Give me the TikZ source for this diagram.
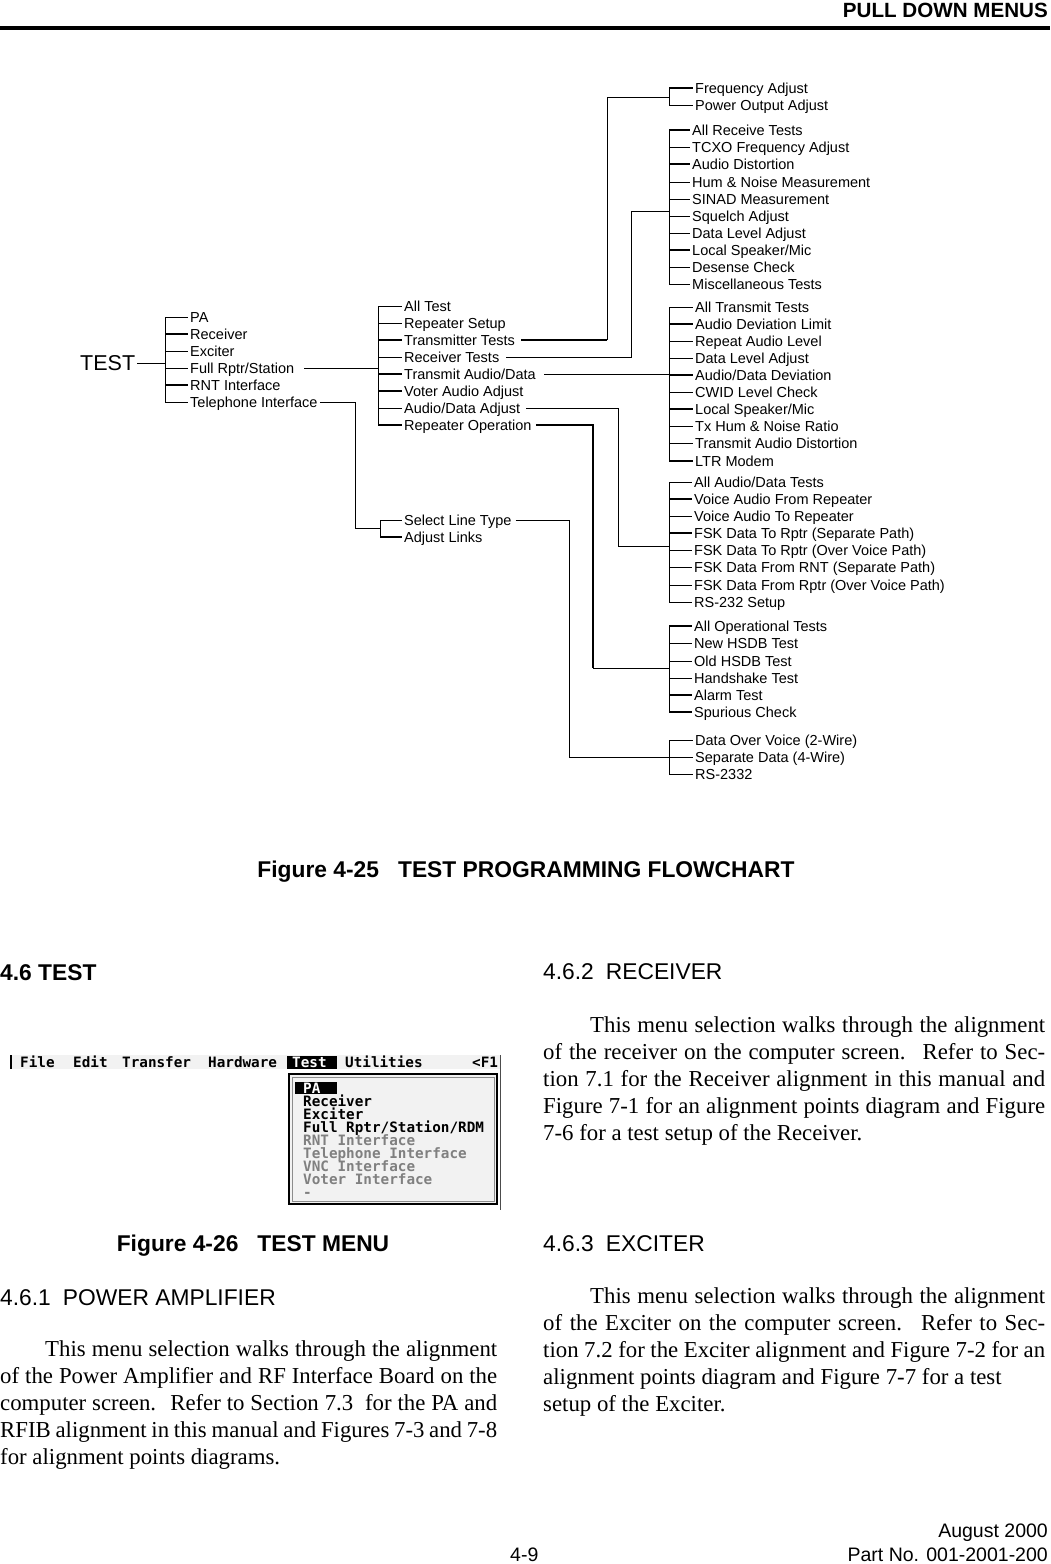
\documentclass[tikz,border=0pt]{standalone}
\usepackage{fontspec}
\setmainfont{Liberation Serif}
\setsansfont{Liberation Sans}
\setmonofont{DejaVu Sans Mono}
\usetikzlibrary{calc}
\def\branch[#1](#2)(#3){\draw[#1] (#2.west -| #3) -- (#2.west);}

\begin{document}
\begin{tikzpicture}[x=1pt, y=-1pt,
		item/.style={anchor=west, inner xsep=2pt, inner ysep=0pt, text height=10.4pt, text depth=0pt,
			font=\sffamily\fontsize{14.5}{16}\selectfont},
		thn/.style={line width=0.9pt},
		thk/.style={line width=2.4pt},
		head/.style={anchor=base west, inner sep=0pt, font=\sffamily\fontsize{22.8}{27}\selectfont},
		para/.style={anchor=base west, inner sep=0pt, text width=502pt, align=justify,
			font=\rmfamily\fontsize{22.8}{27}\selectfont},
		scr/.style={anchor=base west, inner sep=0pt, font=\ttfamily\bfseries\fontsize{14.3}{13}\selectfont},
		dim/.style={scr, text=black!50}]
		%%%%% START %%%%%
		\useasboundingbox (0,0) rectangle (1050,1564);
		
		% page header
		\node[head, anchor=base east, font=\sffamily\bfseries\fontsize{20.6}{24}\selectfont] (hdr) at (1048,17) {PULL DOWN MENUS};
		\fill (0,26) rectangle (1050,30);
		
		% bracket columns
		\coordinate (lvA) at (165,0);
		\coordinate (lvB) at (378,0);
		\coordinate (lvC) at (380,0);
		\coordinate (lvR) at (669,0);
		
		\node[item, font=\sffamily\fontsize{21.5}{24}\selectfont, text height=15.4pt] (test) at (78,363) {TEST};
		
		\node[item] (pa) at (188,317) {PA};
		\node[item] (rcv) at (188,334) {Receiver};
		\node[item] (exc) at (188,351) {Exciter};
		\node[item] (full) at (188,368) {Full Rptr/Station};
		\node[item] (rnt) at (188,385) {RNT Interface};
		\node[item] (tel) at (188,402) {Telephone Interface};
		
		\node[item] (allt) at (402,306) {All Test};
		\node[item] (rset) at (402,323) {Repeater Setup};
		\node[item] (txt) at (402,340) {Transmitter Tests};
		\node[item] (rxt) at (402,357) {Receiver Tests};
		\node[item] (txad) at (402,374) {Transmit Audio/Data};
		\node[item] (vot) at (402,391) {Voter Audio Adjust};
		\node[item] (adadj) at (402,408) {Audio/Data Adjust};
		\node[item] (rop) at (402,425) {Repeater Operation};
		
		\node[item] (slt) at (402,520) {Select Line Type};
		\node[item] (adjl) at (402,537) {Adjust Links};
		
		\node[item] (freq) at (693,88) {Frequency Adjust};
		\node[item] (pwr) at (693,105) {Power Output Adjust};
		
		\node[item] (r1) at (690,130) {All Receive Tests};
		\node[item] (r2) at (690,147) {TCXO Frequency Adjust};
		\node[item] (r3) at (690,164) {Audio Distortion};
		\node[item] (r4) at (690,182) {Hum \& Noise Measurement};
		\node[item] (r5) at (690,199) {SINAD Measurement};
		\node[item] (r6) at (690,216) {Squelch Adjust};
		\node[item] (r7) at (690,233) {Data Level Adjust};
		\node[item] (r8) at (690,250) {Local Speaker/Mic};
		\node[item] (r9) at (690,267) {Desense Check};
		\node[item] (r10) at (690,284) {Miscellaneous Tests};
		
		\node[item] (t1) at (693,307) {All Transmit Tests};
		\node[item] (t2) at (693,324) {Audio Deviation Limit};
		\node[item] (t3) at (693,341) {Repeat Audio Level};
		\node[item] (t4) at (693,358) {Data Level Adjust};
		\node[item] (t5) at (693,375) {Audio/Data Deviation};
		\node[item] (t6) at (693,392) {CWID Level Check};
		\node[item] (t7) at (693,409) {Local Speaker/Mic};
		\node[item] (t8) at (693,426) {Tx Hum \& Noise Ratio};
		\node[item] (t9) at (693,443) {Transmit Audio Distortion};
		\node[item] (t10) at (693,461) {LTR Modem};
		
		\node[item] (a1) at (692,482) {All Audio/Data Tests};
		\node[item] (a2) at (692,499) {Voice Audio From Repeater};
		\node[item] (a3) at (692,516) {Voice Audio To Repeater};
		\node[item] (a4) at (692,533) {FSK Data To Rptr (Separate Path)};
		\node[item] (a5) at (692,550) {FSK Data To Rptr (Over Voice Path)};
		\node[item] (a6) at (692,567) {FSK Data From RNT (Separate Path)};
		\node[item] (a7) at (692,585) {FSK Data From Rptr (Over Voice Path)};
		\node[item] (a8) at (692,602) {RS-232 Setup};
		
		\node[item] (o1) at (692,626) {All Operational Tests};
		\node[item] (o2) at (692,643) {New HSDB Test};
		\node[item] (o3) at (692,661) {Old HSDB Test};
		\node[item] (o4) at (692,678) {Handshake Test};
		\node[item] (o5) at (692,695) {Alarm Test};
		\node[item] (o6) at (692,712) {Spurious Check};
		
		\node[item] (l1) at (693,740) {Data Over Voice (2-Wire)};
		\node[item] (l2) at (693,757) {Separate Data (4-Wire)};
		\node[item] (l3) at (693,774) {RS-2332};
		
		% brackets
		\draw[thn] (pa.west -| lvA) -- (tel.west -| lvA);
		\draw[thn] (allt.west -| lvB) -- (rop.west -| lvB);
		\draw[thn] (slt.west -| lvC) -- (adjl.west -| lvC);
		\draw[thn] (freq.west -| lvR) -- (pwr.west -| lvR);
		\draw[thn] (r1.west -| lvR) -- (r10.west -| lvR);
		\draw[thn] (t1.west -| lvR) -- (t10.west -| lvR);
		\draw[thn] (a1.west -| lvR) -- (a8.west -| lvR);
		\draw[thn] (o1.west -| lvR) -- (o6.west -| lvR);
		\draw[thn] (l1.west -| lvR) -- (l3.west -| lvR);
		
		% ticks
		\branch[thn](pa)(lvA) \branch[thk](rcv)(lvA) \branch[thn](exc)(lvA)
		\branch[thn](full)(lvA) \branch[thk](rnt)(lvA) \branch[thn](tel)(lvA)
		
		\branch[thn](allt)(lvB) \branch[thn](rset)(lvB) \branch[thk](txt)(lvB) \branch[thn](rxt)(lvB)
		\branch[thk](txad)(lvB) \branch[thk](vot)(lvB) \branch[thn](adadj)(lvB) \branch[thk](rop)(lvB)
		\branch[thn](slt)(lvC) \branch[thk](adjl)(lvC)
		
		\branch[thk](freq)(lvR) \branch[thn](pwr)(lvR)
		\branch[thk](r1)(lvR) \branch[thn](r2)(lvR) \branch[thk](r3)(lvR) \branch[thn](r4)(lvR) \branch[thn](r5)(lvR)
		\branch[thn](r6)(lvR) \branch[thn](r7)(lvR) \branch[thk](r8)(lvR) \branch[thn](r9)(lvR) \branch[thn](r10)(lvR)
		\branch[thn](t1)(lvR) \branch[thk](t2)(lvR) \branch[thn](t3)(lvR) \branch[thn](t4)(lvR) \branch[thk](t5)(lvR)
		\branch[thn](t6)(lvR) \branch[thk](t7)(lvR) \branch[thn](t8)(lvR) \branch[thn](t9)(lvR) \branch[thk](t10)(lvR)
		\branch[thn](a1)(lvR) \branch[thk](a2)(lvR) \branch[thn](a3)(lvR) \branch[thk](a4)(lvR)
		\branch[thn](a5)(lvR) \branch[thn](a6)(lvR) \branch[thn](a7)(lvR) \branch[thn](a8)(lvR)
		\branch[thk](o1)(lvR) \branch[thn](o2)(lvR) \branch[thn](o3)(lvR) \branch[thn](o4)(lvR) \branch[thk](o5)(lvR) \branch[thk](o6)(lvR)
		\branch[thn](l1)(lvR) \branch[thn](l2)(lvR) \branch[thn](l3)(lvR)
		
		% connectors between levels
		\coordinate (telDrop) at (355,528);
		\coordinate (txRise) at (607,97);
		\coordinate (rxRise) at (631,211);
		\coordinate (adDrop) at (618,546);
		\coordinate (opDrop) at (593,668);
		\coordinate (lnDrop) at (569,757);
		
		\draw[thn] (test.east) -- (test.east -| lvA);
		\draw[thn] ([xshift=8pt]full.east) -- (full.east -| lvB);
		\draw[thn] (tel.east) -| (telDrop) -- (telDrop -| lvC);
		\draw[thk] ([xshift=4pt]txt.east) -- (txt.east -| txRise);
		\draw[thn] (txt.east -| txRise) -- (txRise) -- (txRise -| lvR);
		\draw[thn] ([xshift=5pt]rxt.east) -| (rxRise) -- (rxRise -| lvR);
		\draw[thn] ([xshift=6pt]txad.east) -- (txad.east -| lvR);
		\draw[thn] ([xshift=4pt]adadj.east) -| (adDrop) -- (adDrop -| lvR);
		\draw[thk] ([xshift=2pt]rop.east) -| (opDrop);
		\draw[thn] (opDrop) -- (opDrop -| lvR);
		\draw[thn] ([xshift=2pt]slt.east) -| (lnDrop) -- (lnDrop -| lvR);
		
		\node[head, anchor=base, font=\sffamily\bfseries\fontsize{22.8}{27}\selectfont] (cap25) at (526,877) {Figure 4-25\hspace{19pt}TEST PROGRAMMING FLOWCHART};
		
		% left column
		\node[head, font=\sffamily\bfseries\fontsize{22.8}{27}\selectfont] (sec46) at (0,980) {4.6 TEST};
		
		\fill[black!5] (10,1055) rectangle (500,1069);
		\fill (10,1055) rectangle (12,1069);
		\fill (287,1056) rectangle (337,1069);
		\node[scr] (mFile) at (20,1067) {File};
		\node[scr] (mEdit) at (73,1067) {Edit};
		\node[scr] (mTrans) at (122,1067) {Transfer};
		\node[scr] (mHard) at (208,1067) {Hardware};
		\node[scr, text=white] (mTest) at (292,1067) {Test};
		\node[scr] (mUtil) at (345,1067) {Utilities};
		\node[scr] (mHelp) at (472,1067) {<F1};
		\draw[black!70, line width=1pt] (500,1055) -- (500,1210);
		\filldraw[fill=black!5, line width=2pt] (289,1074) rectangle (497,1204);
		\draw[black!45, line width=0.8pt] (292,1077) rectangle (494,1201);
		\fill (295,1082) rectangle (337,1094);
		\node[scr, text=white] (dPA) at (303,1093) {PA};
		\node[scr] (dRcv) at (303,1106) {Receiver};
		\node[scr] (dExc) at (303,1119) {Exciter};
		\node[scr] (dFull) at (303,1132) {Full Rptr/Station/RDM};
		\node[dim] (dRnt) at (303,1145) {RNT Interface};
		\node[dim] (dTel) at (303,1158) {Telephone Interface};
		\node[dim] (dVnc) at (303,1171) {VNC Interface};
		\node[dim] (dVot) at (303,1184) {Voter Interface};
		\node[dim] (dDash) at (303,1197) {-};
		
		\node[head, anchor=base, font=\sffamily\bfseries\fontsize{22.8}{27}\selectfont] (cap26) at (253,1251) {Figure 4-26\hspace{19pt}TEST MENU};
		\node[head] (sec461) at (0,1305) {4.6.1\hspace{12pt}POWER AMPLIFIER};
		\node[para, text width=497pt] (txtPA) at (0,1356) {\hspace*{45pt}This menu selection walks through the alignment\linebreak
			of the Power Amplifier and RF Interface Board on the\linebreak
			computer screen.\hspace{6pt} Refer to Section 7.3\hspace{6pt} for the PA and\linebreak
			RFIB alignment in this manual and Figures 7-3 and 7-8\linebreak
			for alignment points diagrams.};
		
		% right column
		\node[head] (sec462) at (543,979) {4.6.2\hspace{12pt}RECEIVER};
		\node[para] (txtRcv) at (543,1032) {\hspace*{47pt}This menu selection walks through the alignment\linebreak
			of the receiver on the computer screen.\hspace{6pt} Refer to Sec-\linebreak
			tion 7.1 for the Receiver alignment in this manual and\linebreak
			Figure 7-1 for an alignment points diagram and Figure\linebreak
			7-6 for a test setup of the Receiver.};
		\node[head] (sec463) at (543,1251) {4.6.3\hspace{12pt}EXCITER};
		\node[para] (txtExc) at (543,1303) {\hspace*{47pt}This menu selection walks through the alignment\linebreak
			of the Exciter on the computer screen.\hspace{6pt} Refer to Sec-\linebreak
			tion 7.2 for the Exciter alignment and Figure 7-2 for an\linebreak
			alignment points diagram and Figure 7-7 for a test\newline
			setup of the Exciter.};
		
		% page footer
		\node[head, anchor=base east, font=\sffamily\fontsize{19.5}{23}\selectfont] (fDate) at (1048,1537) {August 2000};
		\node[head, anchor=base east, font=\sffamily\fontsize{19.5}{23}\selectfont] (fPart) at (1048,1561) {Part No. 001-2001-200};
		\node[head, font=\sffamily\fontsize{19.5}{23}\selectfont] (fPage) at (510,1561) {4-9};
		%%%%% END %%%%%
\end{tikzpicture}
\end{document}
